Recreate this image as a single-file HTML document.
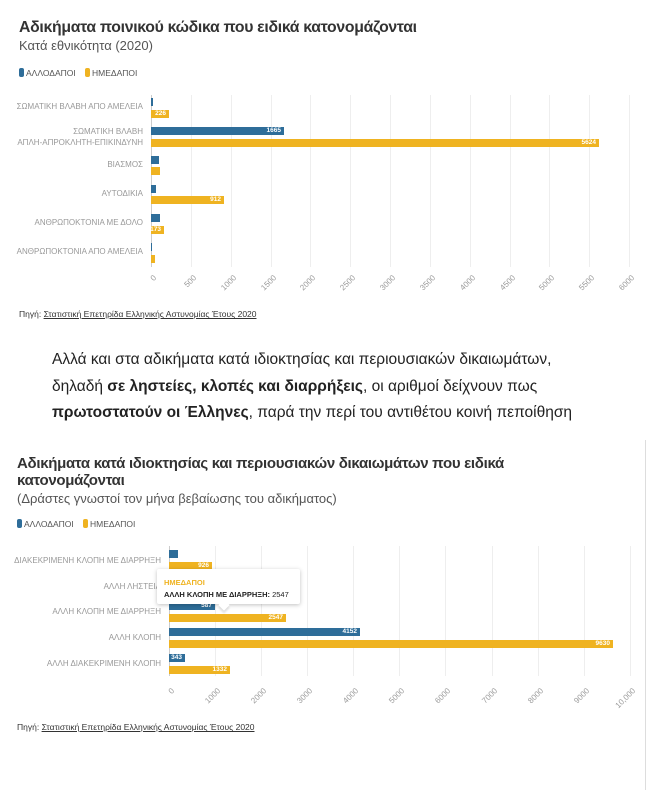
<!DOCTYPE html><html><head><meta charset="utf-8"><style>
body{margin:0;width:650px;height:797px;background:#fff;position:relative;overflow:hidden;font-family:"Liberation Sans","DejaVu Sans",sans-serif;}
div,span{position:absolute;}
.t{font-weight:bold;font-size:15px;color:#333;letter-spacing:-0.3px}
.sub{font-size:13px;color:#555}
.lg{font-size:8.5px;color:#555}
.sw{width:5px;height:9px;border-radius:2px}
.cat{font-size:8px;color:#999;text-align:right;white-space:nowrap;line-height:11px}
.b{height:8px;background:#2e6d99}
.y{height:8px;background:#efb321}
.v{font-size:6.5px;color:#fff;font-weight:bold;right:3px;top:0;line-height:8px}
.tk{font-size:8px;color:#999;transform:rotate(-45deg);transform-origin:right center;white-space:nowrap;text-align:right;width:40px}
.g{width:1px;background:#eee}
.src{font-size:8.5px;color:#333}
.src u{color:#333}
.p{font-size:15.5px;color:#222;left:52px;white-space:nowrap}
</style></head><body>
<div class="t" style="left:19px;top:19px;font-size:15.8px">Αδικήματα ποινικού κώδικα που ειδικά κατονομάζονται</div>
<div class="sub" style="left:19px;top:38px">Κατά εθνικότητα (2020)</div>
<div class="sw" style="left:19px;top:68px;background:#2e6d99"></div><div class="lg" style="left:26px;top:68px">ΑΛΛΟΔΑΠΟΙ</div>
<div class="sw" style="left:85px;top:68px;background:#efb321"></div><div class="lg" style="left:92px;top:68px">ΗΜΕΔΑΠΟΙ</div>

<div class="g" style="left:151px;top:95px;height:172px;background:#ccc"></div>
<div class="g" style="left:191px;top:95px;height:172px"></div><div class="g" style="left:231px;top:95px;height:172px"></div><div class="g" style="left:271px;top:95px;height:172px"></div><div class="g" style="left:310px;top:95px;height:172px"></div><div class="g" style="left:350px;top:95px;height:172px"></div><div class="g" style="left:390px;top:95px;height:172px"></div><div class="g" style="left:430px;top:95px;height:172px"></div><div class="g" style="left:470px;top:95px;height:172px"></div><div class="g" style="left:510px;top:95px;height:172px"></div><div class="g" style="left:549px;top:95px;height:172px"></div><div class="g" style="left:589px;top:95px;height:172px"></div><div class="g" style="left:629px;top:95px;height:172px"></div>

<div class="cat" style="right:507px;top:101px">ΣΩΜΑΤΙΚΗ ΒΛΑΒΗ ΑΠΟ ΑΜΕΛΕΙΑ</div>
<div class="cat" style="right:507px;top:126px">ΣΩΜΑΤΙΚΗ ΒΛΑΒΗ<br>ΑΠΛΗ-ΑΠΡΟΚΛΗΤΗ-ΕΠΙΚΙΝΔΥΝΗ</div>
<div class="cat" style="right:507px;top:159px">ΒΙΑΣΜΟΣ</div>
<div class="cat" style="right:507px;top:188px">ΑΥΤΟΔΙΚΙΑ</div>
<div class="cat" style="right:507px;top:217px">ΑΝΘΡΩΠΟΚΤΟΝΙΑ ΜΕ ΔΟΛΟ</div>
<div class="cat" style="right:507px;top:246px">ΑΝΘΡΩΠΟΚΤΟΝΙΑ ΑΠΟ ΑΜΕΛΕΙΑ</div>

<div class="b" style="left:151px;top:98px;width:2px"></div><div class="y" style="left:151px;top:110px;width:18px"><span class="v">226</span></div>
<div class="b" style="left:151px;top:127px;width:133px"><span class="v">1665</span></div><div class="y" style="left:151px;top:139px;width:448px"><span class="v">5624</span></div>
<div class="b" style="left:151px;top:156px;width:8px"></div><div class="y" style="left:151px;top:167px;width:9px"></div>
<div class="b" style="left:151px;top:185px;width:5px"></div><div class="y" style="left:151px;top:196px;width:73px"><span class="v">912</span></div>
<div class="b" style="left:151px;top:214px;width:9px"></div><div class="y" style="left:151px;top:226px;width:13px"><span class="v">173</span></div>
<div class="b" style="left:151px;top:243px;width:1px"></div><div class="y" style="left:151px;top:255px;width:4px"></div>

<div class="tk" style="left:115px;top:272px">0</div><div class="tk" style="left:155px;top:272px">500</div><div class="tk" style="left:195px;top:272px">1000</div><div class="tk" style="left:235px;top:272px">1500</div><div class="tk" style="left:274px;top:272px">2000</div><div class="tk" style="left:314px;top:272px">2500</div><div class="tk" style="left:354px;top:272px">3000</div><div class="tk" style="left:394px;top:272px">3500</div><div class="tk" style="left:434px;top:272px">4000</div><div class="tk" style="left:474px;top:272px">4500</div><div class="tk" style="left:513px;top:272px">5000</div><div class="tk" style="left:553px;top:272px">5500</div><div class="tk" style="left:593px;top:272px">6000</div>

<div class="src" style="left:19px;top:309px">Πηγή: <u>Στατιστική Επετηρίδα Ελληνικής Αστυνομίας Έτους 2020</u></div>

<div class="p" style="top:351px">Αλλά και στα αδικήματα κατά ιδιοκτησίας και περιουσιακών δικαιωμάτων,</div>
<div class="p" style="top:378px">δηλαδή <b>σε ληστείες, κλοπές και διαρρήξεις</b>, οι αριθμοί δείχνουν πως</div>
<div class="p" style="top:404px"><b>πρωτοστατούν οι Έλληνες</b>, παρά την περί του αντιθέτου κοινή πεποίθηση</div>

<div style="left:645px;top:440px;width:1px;height:350px;background:#ddd"></div>

<div class="t" style="left:17px;top:455px">Αδικήματα κατά ιδιοκτησίας και περιουσιακών δικαιωμάτων που ειδικά<br>κατονομάζονται</div>
<div class="sub" style="left:17px;top:491px">(Δράστες γνωστοί τον μήνα βεβαίωσης του αδικήματος)</div>
<div class="sw" style="left:17px;top:519px;background:#2e6d99"></div><div class="lg" style="left:24px;top:519px">ΑΛΛΟΔΑΠΟΙ</div>
<div class="sw" style="left:83px;top:519px;background:#efb321"></div><div class="lg" style="left:90px;top:519px">ΗΜΕΔΑΠΟΙ</div>

<div class="g" style="left:169px;top:546px;height:130px;background:#ccc"></div>
<div class="g" style="left:215px;top:546px;height:130px"></div><div class="g" style="left:261px;top:546px;height:130px"></div><div class="g" style="left:307px;top:546px;height:130px"></div><div class="g" style="left:353px;top:546px;height:130px"></div><div class="g" style="left:399px;top:546px;height:130px"></div><div class="g" style="left:445px;top:546px;height:130px"></div><div class="g" style="left:492px;top:546px;height:130px"></div><div class="g" style="left:538px;top:546px;height:130px"></div><div class="g" style="left:584px;top:546px;height:130px"></div><div class="g" style="left:630px;top:546px;height:130px"></div>

<div class="cat" style="right:489px;top:555px">ΔΙΑΚΕΚΡΙΜΕΝΗ ΚΛΟΠΗ ΜΕ ΔΙΑΡΡΗΞΗ</div>
<div class="cat" style="right:489px;top:581px">ΑΛΛΗ ΛΗΣΤΕΙΑ</div>
<div class="cat" style="right:489px;top:606px">ΑΛΛΗ ΚΛΟΠΗ ΜΕ ΔΙΑΡΡΗΞΗ</div>
<div class="cat" style="right:489px;top:632px">ΑΛΛΗ ΚΛΟΠΗ</div>
<div class="cat" style="right:489px;top:658px">ΑΛΛΗ ΔΙΑΚΕΚΡΙΜΕΝΗ ΚΛΟΠΗ</div>

<div class="b" style="left:169px;top:550px;width:9px"></div><div class="y" style="left:169px;top:562px;width:43px"><span class="v">926</span></div>
<div class="b" style="left:169px;top:576px;width:3px"></div><div class="y" style="left:169px;top:588px;width:10px"></div>
<div class="b" style="left:169px;top:602px;width:46px"><span class="v">587</span></div><div class="y" style="left:169px;top:614px;width:117px"><span class="v">2547</span></div>
<div class="b" style="left:169px;top:628px;width:191px"><span class="v">4152</span></div><div class="y" style="left:169px;top:640px;width:444px"><span class="v">9630</span></div>
<div class="b" style="left:169px;top:654px;width:16px"><span class="v">343</span></div><div class="y" style="left:169px;top:666px;width:61px"><span class="v">1332</span></div>

<div style="left:157px;top:569px;width:143px;height:35px;background:#fff;box-shadow:0 1px 4px rgba(0,0,0,0.25);border-radius:2px"></div>
<div style="left:220px;top:601px;width:8px;height:8px;background:#fff;transform:rotate(45deg);box-shadow:2px 2px 2px rgba(0,0,0,0.12)"></div>
<div style="left:164px;top:578px;font-size:7.5px;font-weight:bold;color:#efb321">ΗΜΕΔΑΠΟΙ</div>
<div style="left:164px;top:590px;font-size:7.5px;color:#222"><b>ΑΛΛΗ ΚΛΟΠΗ ΜΕ ΔΙΑΡΡΗΞΗ:</b> 2547</div>

<div class="tk" style="left:133px;top:685px">0</div><div class="tk" style="left:179px;top:685px">1000</div><div class="tk" style="left:225px;top:685px">2000</div><div class="tk" style="left:271px;top:685px">3000</div><div class="tk" style="left:317px;top:685px">4000</div><div class="tk" style="left:363px;top:685px">5000</div><div class="tk" style="left:409px;top:685px">6000</div><div class="tk" style="left:456px;top:685px">7000</div><div class="tk" style="left:502px;top:685px">8000</div><div class="tk" style="left:548px;top:685px">9000</div><div class="tk" style="left:594px;top:685px">10,000</div>

<div class="src" style="left:17px;top:722px">Πηγή: <u>Στατιστική Επετηρίδα Ελληνικής Αστυνομίας Έτους 2020</u></div>
</body></html>
